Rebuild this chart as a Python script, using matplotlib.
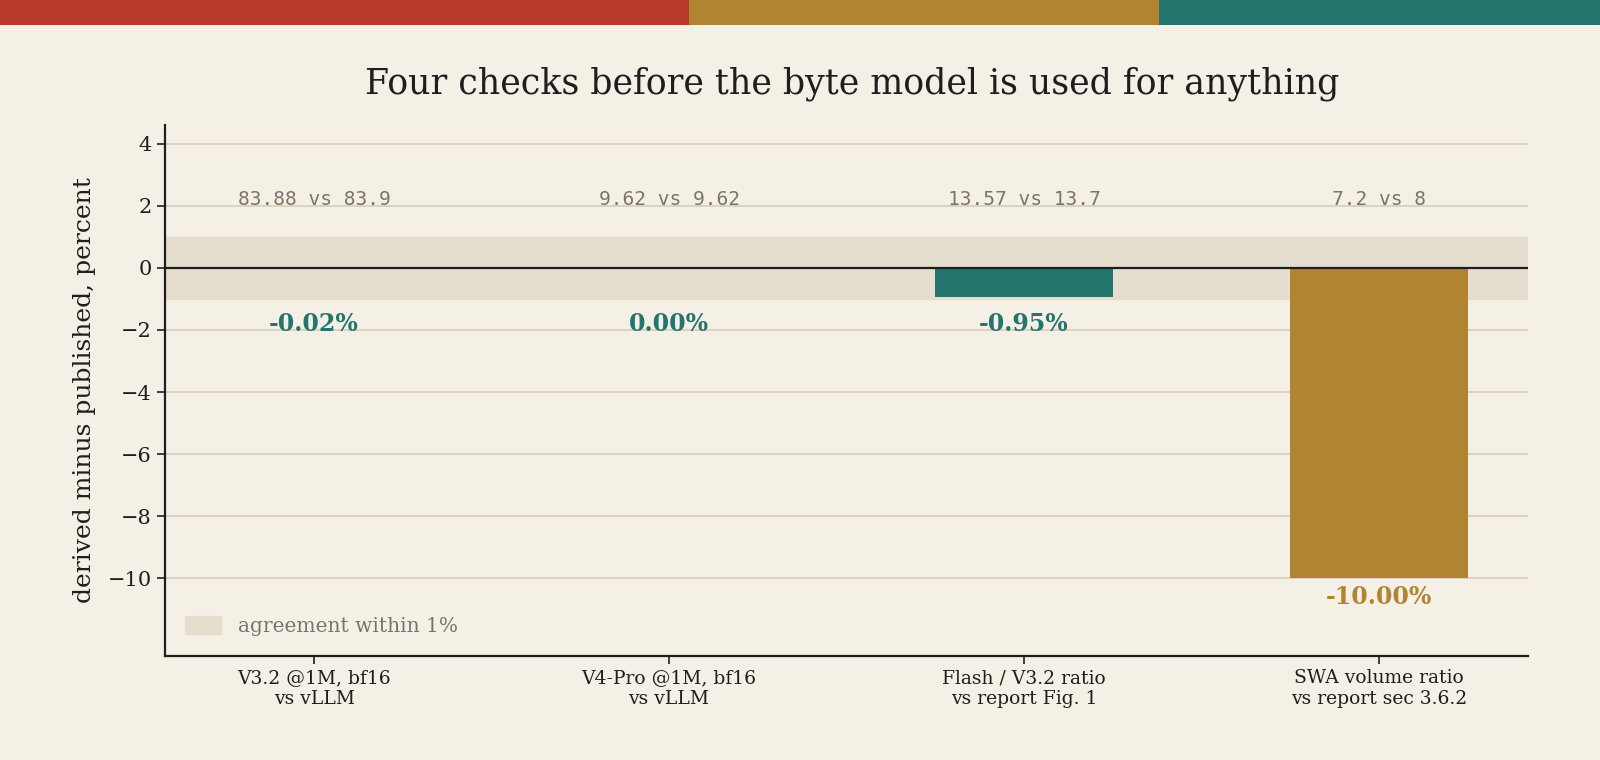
import matplotlib
matplotlib.use('Agg')
import matplotlib.pyplot as plt
import matplotlib.patches as patches

# data
labels = ["V3.2 @1M, bf16\nvs vLLM", "V4-Pro @1M, bf16\nvs vLLM",
          "Flash / V3.2 ratio\nvs report Fig. 1", "SWA volume ratio\nvs report sec 3.6.2"]
diffs = [-0.02, 0.00, -0.95, -10.00]
compare = ["83.88 vs 83.9", "9.62 vs 9.62", "13.57 vs 13.7", "7.2 vs 8"]

BG = '#F5F0E6'
RED = '#B83A2A'
GOLD = '#B08430'
TEAL = '#23756E'
BAND = '#E5DDCE'
GRID = '#D9CDB8'
INK = '#1E1E1E'

plt.rcParams['font.family'] = 'DejaVu Serif'

fig = plt.figure(figsize=(16, 7.6), dpi=100)
fig.patch.set_facecolor(BG)

# top colour stripe
for x0, w, c in [(0, 689, RED), (689, 470, GOLD), (1159, 441, TEAL)]:
    fig.add_artist(patches.Rectangle((x0 / 1600, 1 - 25 / 760), w / 1600, 25 / 760,
                                     transform=fig.transFigure, facecolor=c, edgecolor='none'))

ax = fig.add_axes([165 / 1600, 1 - 656 / 760, (1528 - 165) / 1600, (656 - 125) / 760])
ax.set_facecolor(BG)
ax.set_xlim(-0.42, 3.42)
ax.set_ylim(-12.5, 4.6)

ax.axhspan(-1, 1, color=BAND, zorder=0, label='agreement within 1%')
for y in range(-10, 5, 2):
    ax.axhline(y, color=GRID, lw=1.2, zorder=0.5)
ax.axhline(0, color=INK, lw=1.6, zorder=3)

xs = range(len(diffs))
colors = [TEAL if abs(d) <= 1 else GOLD for d in diffs]
ax.bar(xs, diffs, width=0.5, color=colors, zorder=2)

for x, d, c, s in zip(xs, diffs, colors, compare):
    ax.text(x, 2.2, s, ha='center', va='center', fontsize=14,
            family='DejaVu Sans Mono', color='#77756E')
    ypos = d - 0.6 if d < -1.5 else -1.8
    ax.text(x, ypos, f"{d:.2f}%", ha='center', va='center', fontsize=17,
            fontweight='bold', color=c)

ax.set_xticks(list(xs))
ax.set_xticklabels(labels, fontsize=13.5, color=INK)
ax.set_yticks(range(-10, 5, 2))
ax.set_yticklabels([f"{v}".replace('-', '\u2212') for v in range(-10, 5, 2)], fontsize=15)
ax.tick_params(length=6, width=1.2, colors=INK)
ax.set_ylabel("derived minus published, percent", fontsize=18, color=INK, labelpad=8)
for sp in ['top', 'right']:
    ax.spines[sp].set_visible(False)
for sp in ['left', 'bottom']:
    ax.spines[sp].set_linewidth(1.6)
    ax.spines[sp].set_color(INK)

leg = ax.legend(loc='lower left', frameon=False, fontsize=14.5, handlelength=1.8,
                handleheight=1.0, borderaxespad=0.6)
for t in leg.get_texts():
    t.set_color('#77756E')

fig.text(0.5325, 1 - 84 / 760, "Four checks before the byte model is used for anything",
         ha='center', va='center', fontsize=25, color=INK)

plt.savefig('out.png', dpi=100, facecolor=BG)
